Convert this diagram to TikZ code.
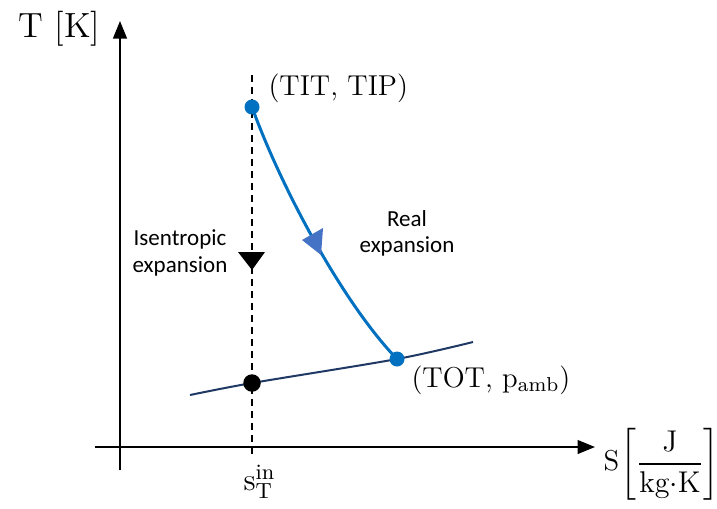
\documentclass[tikz,border=0pt]{standalone}
\usepackage{amsmath}
\usepackage{fontspec}
\newfontfamily\notefont{Carlito}
\usepackage{tikz}
\usetikzlibrary{arrows.meta,positioning,backgrounds}
\definecolor{RealBlue}{HTML}{0070C0}
\definecolor{HeadBlue}{HTML}{4472C4}
\definecolor{Isobar}{HTML}{1F3864}

\begin{document}
\begin{tikzpicture}[x=0.4pt,y=-0.4pt,
  axis/.style={line width=0.8pt,-{Triangle[length=7pt,width=5.5pt]}},
  dot/.style={circle,fill=#1,inner sep=0pt,minimum size=6pt},
  real/.style={line width=1.2pt,color=RealBlue},
  isobar/.style={line width=0.8pt,color=Isobar},
  isen/.style={line width=0.7pt,dash pattern=on 2.8pt off 2pt},
  lbl/.style={font=\fontsize{11.5}{13}\selectfont,inner sep=0pt},
  note/.style={font=\notefont\fontsize{9.2}{10.5}\selectfont,align=center,inner sep=0pt}]
\useasboundingbox (0,0) rectangle (717,508);
\coordinate (ybot) at (120,470);
\coordinate (ytop) at (120,21);
\coordinate (xleft) at (95,447);
\coordinate (xright) at (595,447);
\coordinate (stop) at (252,75);
\coordinate (sbot) at (252,458);
\coordinate (pleft) at (190,395);
\coordinate (pright) at (473,342);
\node[dot=RealBlue] (tit) at (252,107) {};
\node[dot=black,minimum size=7pt] (send) at (252,383) {};
\node[dot=RealBlue] (tot) at (397,359) {};
\begin{scope}[on background layer]
\draw[axis] (ybot)--(ytop);
\draw[axis] (xleft)--(xright);
\draw[isen] (stop)--(sbot);
\draw[isobar] plot[smooth] coordinates {(pleft) (send.center) (tot.center) (pright)};
\draw[real] (tit.center) .. controls (280,185) and (342,302) .. (tot.center);
\end{scope}
\fill (238,252) -- (265,252) -- (252,270) -- cycle;
\fill[HeadBlue] (302,240) -- (323,228) -- (321,255) -- cycle;
\node[lbl,anchor=base west] (titlbl) at (268,95) {(TIT, TIP)};
\node[lbl,anchor=base west] (totlbl) at (411,387) {(TOT, $\mathrm{p}_{\mathrm{amb}}$)};
\node[lbl,font=\fontsize{14}{16}\selectfont,anchor=base west] (tlbl) at (18,37) {T [K]};
\node[lbl,font=\fontsize{12.5}{14}\selectfont,anchor=base west] (slbl) at (243,490) {$\mathrm{s}_{\mathrm{T}}^{\mathrm{in}}$};
\node[lbl,anchor=base west] (xlbl) at (603,470) {S};
\node[lbl,font=\fontsize{12}{14}\selectfont] (xunit) at (670,464) {$\left[\dfrac{\mathrm{J}}{\mathrm{kg{\cdot}K}}\right]$};
\node[note] (reallbl) at (407,233) {Real\\expansion};
\node[note] (isenlbl) at (180,253) {Isentropic\\expansion};
\end{tikzpicture}
\end{document}
